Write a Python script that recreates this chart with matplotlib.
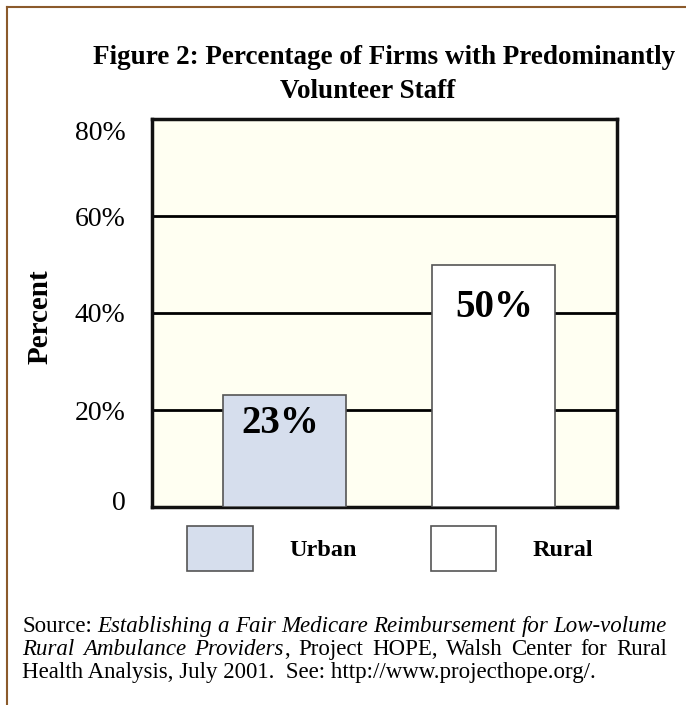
import matplotlib
matplotlib.use('Agg')
import matplotlib.pyplot as plt
import matplotlib.transforms as mtransforms
from matplotlib.lines import Line2D

plt.rcParams['font.family'] = ['Liberation Serif', 'DejaVu Serif']

# data
categories = ['Urban', 'Rural']
values = [23, 50]
bar_labels = ['23%', '50%']
tick_values = [0, 20, 40, 60, 80]
tick_labels = ['0', '20%', '40%', '60%', '80%']
bar_colors = ['#d6deed', '#ffffff']

W, H = 686, 705
fig = plt.figure(figsize=(W / 100, H / 100), dpi=100)
fig.patch.set_facecolor('white')

# plot box in pixels: x 152..617, y 119..507
ax = fig.add_axes([152 / W, 1 - 507 / H, 465 / W, 388 / H])
ax.set_facecolor('#fffff2')

pos = list(range(len(categories)))
bars = ax.bar(pos, values, width=0.586, color=bar_colors, edgecolor='#555555',
              linewidth=1.2, zorder=3, label=categories)
# label offsets (points) from bar top, as in the original
label_dx = [-3, 0]
label_dy = [-20, -31]
for p, v, t, dx, dy in zip(pos, values, bar_labels, label_dx, label_dy):
    ax.annotate(t, (p, v), xytext=(dx, dy), textcoords='offset points',
                ha='center', va='center', fontsize=28, fontweight='bold', zorder=4)

ax.set_xlim(-0.629, 1.586)
ax.set_ylim(0, 80)
ax.set_xticks([])
ax.set_yticks(tick_values)
ax.set_yticklabels(tick_labels, fontsize=20)
ax.tick_params(axis='y', length=0, pad=19)
# nudge first and last tick labels like the original
for lab, dy in zip(ax.get_yticklabels(), [5, 0, 0, 0, -8]):
    lab.set_transform(lab.get_transform() +
                      mtransforms.ScaledTranslation(0, dy / 72, fig.dpi_scale_trans))
for yv in tick_values[1:-1]:
    ax.axhline(yv, color='black', linewidth=2, zorder=2)
for s in ax.spines.values():
    s.set_linewidth(2.5)
    s.set_color('#111111')

fig.text(40 / W, 1 - 317 / H, 'Percent', rotation=90, ha='center', va='center',
         fontsize=21, fontweight='bold')

# title
fig.text(384 / W, 1 - 57 / H, 'Figure 2: Percentage of Firms with Predominantly',
         ha='center', va='center', fontsize=19.5, fontweight='bold')
fig.text(368 / W, 1 - 92 / H, 'Volunteer Staff',
         ha='center', va='center', fontsize=19.5, fontweight='bold')

# legend
fig.legend(handles=bars, labels=categories, loc='upper left',
           bbox_to_anchor=(187 / W, 1 - 526 / H), ncol=2, frameon=False,
           borderpad=0, borderaxespad=0, handlelength=2.7, handleheight=2.45,
           handletextpad=1.5, columnspacing=3.05,
           prop={'size': 17.5, 'weight': 'bold'})

# source note: first two lines justified, pieces keep their own style
src_lines = [
    [('Source: ', 'normal'), ('Establishing a Fair Medicare Reimbursement for Low-volume', 'italic')],
    [('Rural Ambulance Providers', 'italic'), (', Project HOPE, Walsh Center for Rural', 'normal')],
    [('Health Analysis, July 2001.  See: http://www.projecthope.org/.', 'normal')],
]
src_size = 16.5
x0, x1 = 22, 667
renderer = fig.canvas.get_renderer()


def split_words(parts):
    words = [[]]
    for txt, style in parts:
        chunks = txt.split(' ')
        for k, c in enumerate(chunks):
            if k > 0:
                words.append([])
            if c:
                words[-1].append((c, style))
    return [w for w in words if w]


for i, parts in enumerate(src_lines):
    ybase = 1 - (632 + 23 * i) / H
    if i == len(src_lines) - 1:
        fig.text(x0 / W, ybase, parts[0][0], ha='left', va='baseline',
                 fontsize=src_size, style=parts[0][1])
        continue
    words = split_words(parts)
    pieces = []
    total = 0
    for w in words:
        wp = []
        for frag, style in w:
            t = fig.text(0, ybase, frag, ha='left', va='baseline',
                         fontsize=src_size, style=style)
            width = t.get_window_extent(renderer).width
            wp.append((t, width))
            total += width
        pieces.append(wp)
    gap = (x1 - x0 - total) / (len(pieces) - 1)
    x = x0
    for wp in pieces:
        for t, width in wp:
            t.set_x(x / W)
            x += width
        x += gap

# outer frame (top and left only)
fig.add_artist(Line2D([7 / W, 1], [1 - 7 / H, 1 - 7 / H], color='#8b5a2b', lw=1.5))
fig.add_artist(Line2D([7 / W, 7 / W], [0, 1 - 7 / H], color='#8b5a2b', lw=1.5))

fig.savefig('out.png', dpi=100)
